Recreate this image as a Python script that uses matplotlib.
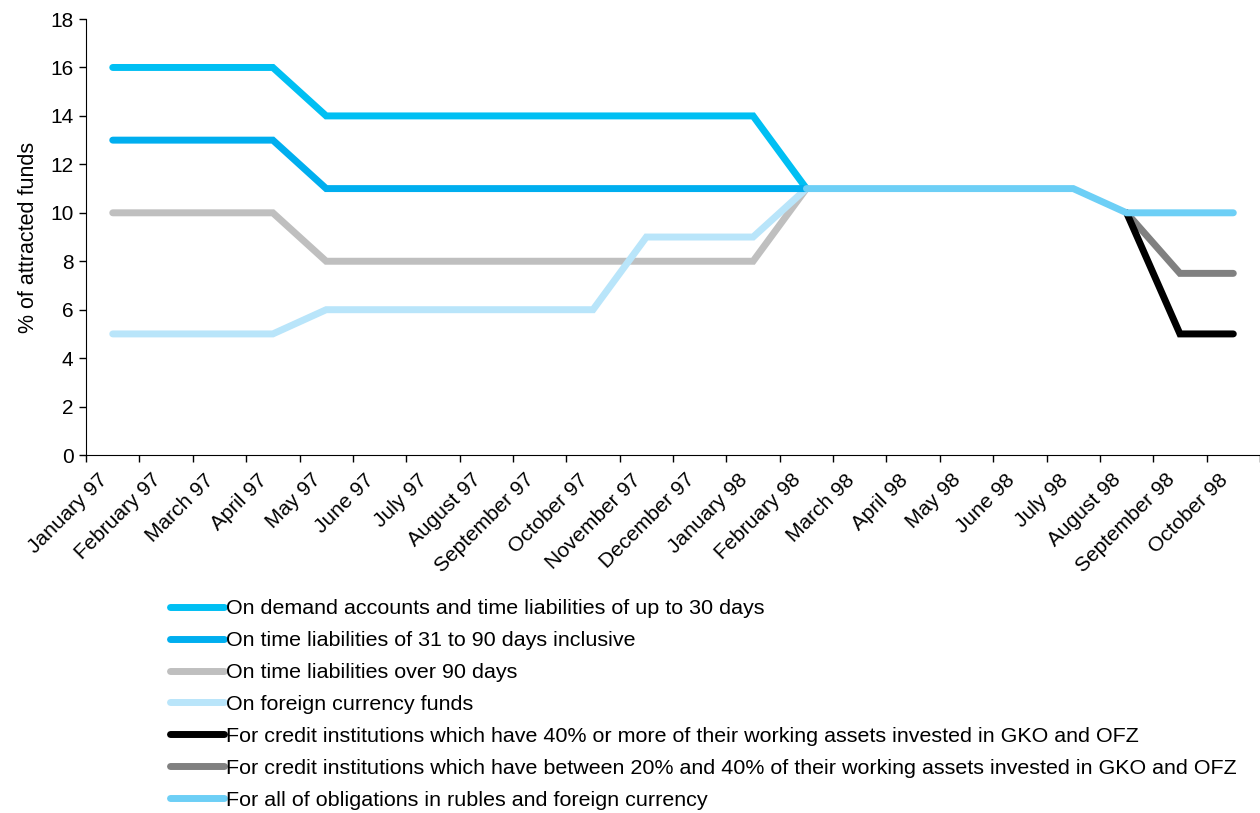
import numpy as np
import matplotlib
matplotlib.use("Agg")
import matplotlib.pyplot as plt
import matplotlib.transforms as mtransforms

plt.rcParams['font.family'] = ['Liberation Sans', 'DejaVu Sans']

months = ["January 97", "February 97", "March 97", "April 97", "May 97", "June 97",
          "July 97", "August 97", "September 97", "October 97", "November 97",
          "December 97", "January 98", "February 98", "March 98", "April 98",
          "May 98", "June 98", "July 98", "August 98", "September 98", "October 98"]

nan = np.nan
demand_30 = [16, 16, 16, 16, 14, 14, 14, 14, 14, 14, 14, 14, 14, 11] + [nan] * 8
time_31_90 = [13, 13, 13, 13, 11, 11, 11, 11, 11, 11, 11, 11, 11, 11] + [nan] * 8
time_over_90 = [10, 10, 10, 10, 8, 8, 8, 8, 8, 8, 8, 8, 8, 11] + [nan] * 8
foreign_cur = [5, 5, 5, 5, 6, 6, 6, 6, 6, 6, 9, 9, 9, 11] + [nan] * 8
gko_40 = [nan] * 19 + [10, 5, 5]
gko_20_40 = [nan] * 19 + [10, 7.5, 7.5]
all_obl = [nan] * 13 + [11, 11, 11, 11, 11, 11, 10, 10, 10]

series = [
    (demand_30, "#00BFF3", "On demand accounts and time liabilities of up to 30 days", 3),
    (time_31_90, "#00AEEF", "On time liabilities of 31 to 90 days inclusive", 3),
    (time_over_90, "#BFBFBF", "On time liabilities over 90 days", 2),
    (foreign_cur, "#B9E5FA", "On foreign currency funds", 2),
    (gko_40, "#000000", "For credit institutions which have 40% or more of their working assets invested in GKO and OFZ", 5),
    (gko_20_40, "#808080", "For credit institutions which have between 20% and 40% of their working assets invested in GKO and OFZ", 4),
    (all_obl, "#6DCFF6", "For all of obligations in rubles and foreign currency", 6),
]

fig = plt.figure(figsize=(12.6, 8.13), dpi=100)
ax = fig.add_axes([0.0683, 0.4403, 0.9317, 0.5363])

x = np.arange(len(months))
for vals, col, lab, z in series:
    ax.plot(x, vals, color=col, lw=5, label=lab, zorder=z,
            solid_capstyle='round', solid_joinstyle='miter')

ax.set_xlim(-0.5, len(months) - 0.5)
ax.set_ylim(0, 18)
ax.set_yticks(range(0, 19, 2))
ax.set_xticks(x)
ax.set_xticklabels(months, rotation=45, ha='right', rotation_mode='anchor')
ax.set_xticks(np.arange(-0.5, len(months)), minor=True)
ax.tick_params(axis='x', which='major', length=0, pad=11, labelsize=15)
ax.tick_params(axis='x', which='minor', length=5, width=1)
ax.tick_params(axis='y', length=5, width=1, labelsize=15, pad=4)
ax.set_ylabel("% of attracted funds", fontsize=15.5, labelpad=8)
ax.spines['top'].set_visible(False)
ax.spines['right'].set_visible(False)

# nudge the rotated month labels to the left
shift = mtransforms.ScaledTranslation(-15 / 100, 0, fig.dpi_scale_trans)
for lbl in ax.get_xticklabels():
    lbl.set_transform(lbl.get_transform() + shift)

fig.legend(loc='upper left', bbox_to_anchor=(0.128, 0.2735), frameon=False,
           fontsize=15.45, handlelength=2.5, handletextpad=0.12, labelspacing=0.6,
           borderaxespad=0)

fig.savefig("out.png", dpi=100)
